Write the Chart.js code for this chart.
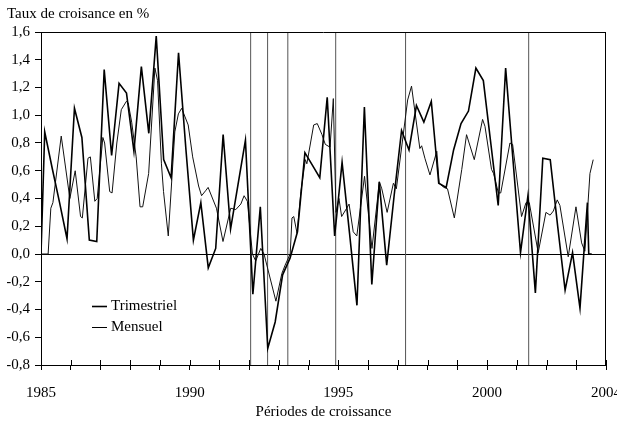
<!DOCTYPE html>
<html>
<head>
<meta charset="utf-8">
<script src="https://cdn.jsdelivr.net/npm/chart.js@4.4.0/dist/chart.umd.min.js"></script>
<style>
  html, body { margin: 0; padding: 0; background: #fff; overflow: hidden; }
  #wrap { width: 635px; height: 426px; }
</style>
</head>
<body>
<div id="wrap"><canvas id="growthChart"></canvas></div>
<script>
// Series names, as shown in the legend
const seriesNames = ['Trimestriel', 'Mensuel'];

// Trimestriel: one value per quarter (decimal year), 0 where there is no data
const trimDates = [
    1985.0,
    1985.125, 1985.375, 1985.625, 1985.875,
    1986.125, 1986.375, 1986.625, 1986.875,
    1987.125, 1987.375, 1987.625, 1987.875,
    1988.125, 1988.375, 1988.625, 1988.875,
    1989.125, 1989.375, 1989.625, 1989.875,
    1990.125, 1990.375, 1990.625, 1990.875,
    1991.125, 1991.375, 1991.625, 1991.875,
    1992.125, 1992.375, 1992.625, 1992.875,
    1993.125, 1993.375, 1993.625, 1993.875,
    1994.125, 1994.375, 1994.625, 1994.875,
    1995.125, 1995.375, 1995.625, 1995.875,
    1996.125, 1996.375, 1996.625, 1996.875,
    1997.125, 1997.375, 1997.625, 1997.875,
    1998.125, 1998.375, 1998.625, 1998.875,
    1999.125, 1999.375, 1999.625, 1999.875,
    2000.125, 2000.375, 2000.625, 2000.875,
    2001.125, 2001.375, 2001.625, 2001.875,
    2002.125, 2002.375, 2002.625, 2002.875,
    2003.125, 2003.375,
    2003.42, 2003.52
];
const trimValues = [
    0,
    0.88, 0.62, 0.37, 0.11,
    1.05, 0.84, 0.10, 0.09,
    1.33, 0.71, 1.23, 1.16,
    0.74, 1.35, 0.87, 1.57,
    0.68, 0.55, 1.45, 0.75,
    0.10, 0.37, -0.10, 0.04,
    0.86, 0.18, 0.50, 0.82,
    -0.29, 0.34, -0.68, -0.49,
    -0.15, -0.03, 0.16, 0.73,
    0.64, 0.55, 1.13, 0.13,
    0.66, 0.15, -0.37, 1.06,
    -0.22, 0.52, -0.08, 0.42,
    0.89, 0.75, 1.07, 0.95,
    1.10, 0.51, 0.48, 0.75,
    0.94, 1.03, 1.34, 1.25,
    0.80, 0.35, 1.34, 0.67,
    0.01, 0.42, -0.28, 0.69,
    0.68, 0.20, -0.26, 0.01,
    -0.39, 0.37,
    0, 0
];

// Mensuel: readings taken at the turning points of the monthly curve
const mensDates = [
    1985.00, 1985.24, 1985.33, 1985.40, 1985.68, 1985.97,
    1986.15, 1986.33, 1986.39, 1986.58, 1986.66, 1986.81, 1986.89,
    1987.08, 1987.14, 1987.31, 1987.39, 1987.55, 1987.70, 1987.87, 1987.93,
    1988.05, 1988.20, 1988.33, 1988.42, 1988.62, 1988.83, 1988.92,
    1989.05, 1989.12, 1989.28, 1989.50, 1989.62, 1989.73, 1989.95,
    1990.10, 1990.30, 1990.40, 1990.55, 1990.62, 1990.90,
    1991.12, 1991.38, 1991.55, 1991.72, 1991.83, 1991.94,
    1992.11, 1992.22, 1992.39, 1992.50, 1992.90,
    1993.10, 1993.21, 1993.38, 1993.44, 1993.50, 1993.61, 1993.74, 1993.89, 1993.94,
    1994.17, 1994.29, 1994.45, 1994.56, 1994.72, 1994.83, 1994.92,
    1995.02, 1995.11, 1995.28, 1995.36, 1995.50, 1995.62, 1995.88,
    1996.13, 1996.38, 1996.46, 1996.64, 1996.85, 1996.95,
    1997.33, 1997.46, 1997.74, 1997.80, 1997.91,
    1998.08, 1998.31, 1998.39, 1998.55, 1998.67, 1998.90,
    1999.15, 1999.31, 1999.57, 1999.85, 1999.93,
    2000.15, 2000.22, 2000.38, 2000.46, 2000.77, 2000.86,
    2001.16, 2001.31, 2001.42, 2001.72, 2001.98,
    2002.12, 2002.23, 2002.36, 2002.45, 2002.73, 2002.99,
    2003.18, 2003.29, 2003.46, 2003.57
];
const mensValues = [
    0, 0, 0.33, 0.37, 0.85, 0.40,
    0.60, 0.27, 0.26, 0.69, 0.70, 0.38, 0.40,
    0.84, 0.80, 0.45, 0.44, 0.80, 1.04, 1.10, 1.09,
    0.95, 0.70, 0.34, 0.34, 0.58, 1.34, 1.25,
    0.65, 0.45, 0.13, 0.88, 1.01, 1.05, 0.93,
    0.70, 0.49, 0.42, 0.46, 0.48, 0.33,
    0.09, 0.33, 0.32, 0.36, 0.42, 0.38,
    0.00, -0.05, 0.04, 0.00, -0.34,
    -0.14, -0.08, 0.00, 0.26, 0.27, 0.15, 0.45, 0.68, 0.65,
    0.93, 0.94, 0.86, 0.79, 0.77, 1.12, 0.30,
    0.40, 0.27, 0.33, 0.36, 0.16, 0.13, 0.56,
    0.04, 0.52, 0.47, 0.30, 0.51, 0.47,
    1.11, 1.21, 0.76, 0.78, 0.69,
    0.57, 0.74, 0.51, 0.48, 0.47, 0.26,
    0.61, 0.86, 0.68, 0.97, 0.92,
    0.61, 0.58, 0.44, 0.44, 0.80, 0.79,
    0.27, 0.37, 0.37, 0.01, 0.30,
    0.28, 0.31, 0.39, 0.35, -0.02, 0.34,
    0.08, 0.02, 0.58, 0.68
];

// Vertical markers (decimal years)
const breakDates = [1992.05, 1992.62, 1993.30, 1994.91, 1997.26, 2001.40];

// Axes
const xMin = 1985, xMax = 2004;
const xTickLabels = [1985, 1990, 1995, 2000, 2004];
const yMin = -0.8, yMax = 1.6, yStep = 0.2;

function toPoints(dates, values) {
    return dates.map((d, i) => ({ x: d, y: values[i] }));
}

function formatTick(v) {
    if (Math.abs(v) < 1e-9) return '0,0';
    return v.toFixed(1).replace('.', ',');
}

// Frame (top/right), inner half of x ticks and the legend inside the plot
const framePlugin = {
    id: 'frame',
    afterDraw(chart) {
        const { ctx, chartArea: a, scales: { x } } = chart;
        ctx.save();
        ctx.strokeStyle = '#000';
        ctx.lineWidth = 1;
        ctx.beginPath();
        ctx.moveTo(a.left, Math.round(a.top) + 0.5);
        ctx.lineTo(a.right, Math.round(a.top) + 0.5);
        ctx.moveTo(Math.round(a.right) - 0.5, a.top);
        ctx.lineTo(Math.round(a.right) - 0.5, a.bottom);
        x.ticks.forEach(t => {
            const px = Math.round(x.getPixelForValue(t.value)) + 0.5;
            ctx.moveTo(px, a.bottom);
            ctx.lineTo(px, a.bottom - 5);
        });
        ctx.stroke();

        ctx.font = '15px "Liberation Serif", "Times New Roman", serif';
        ctx.textBaseline = 'middle';
        ctx.fillStyle = '#000';
        seriesNames.forEach((name, i) => {
            const y = Math.round(a.top + 274 + i * 21) + 0.5;
            ctx.lineWidth = i === 0 ? 1.6 : 1;
            ctx.beginPath();
            ctx.moveTo(a.left + 51, y);
            ctx.lineTo(a.left + 66, y);
            ctx.stroke();
            ctx.fillText(name, a.left + 70, y);
        });
        ctx.restore();
    }
};

Chart.defaults.font.family = '"Liberation Serif", "Times New Roman", serif';
Chart.defaults.font.size = 15;
Chart.defaults.color = '#000';

const datasets = [
    {
        label: seriesNames[0],
        data: toPoints(trimDates, trimValues),
        borderColor: '#000',
        borderWidth: 1.6,
        pointRadius: 0,
        tension: 0
    },
    {
        label: seriesNames[1],
        data: toPoints(mensDates, mensValues),
        borderColor: '#111',
        borderWidth: 1,
        pointRadius: 0,
        tension: 0
    }
];
breakDates.forEach(d => {
    datasets.push({
        label: '',
        data: [{ x: d, y: yMin }, { x: d, y: yMax }],
        borderColor: '#555',
        borderWidth: 1,
        pointRadius: 0
    });
});

const ctx = document.getElementById('growthChart').getContext('2d');
const growthChart = new Chart(ctx, {
    type: 'line',
    data: { datasets: datasets },
    options: {
        responsive: true,
        maintainAspectRatio: false,
        animation: false,
        layout: { padding: { left: 7, right: 0, top: 0, bottom: 0 } },
        plugins: {
            legend: { display: false },
            tooltip: { enabled: false },
            title: {
                display: true,
                text: 'Taux de croisance en %',
                align: 'start',
                font: { size: 15, weight: 'normal' },
                padding: { top: 5, bottom: 9 }
            }
        },
        scales: {
            x: {
                type: 'linear',
                min: xMin,
                max: xMax,
                afterFit: s => { s.height = 61; },
                grid: { drawOnChartArea: false, drawTicks: true, tickLength: 5, color: '#000' },
                border: { display: true, color: '#000', width: 1 },
                ticks: {
                    stepSize: 1,
                    autoSkip: false,
                    maxRotation: 0,
                    padding: 14,
                    callback: v => xTickLabels.includes(v) ? String(v) : ''
                },
                title: {
                    display: true,
                    text: 'Périodes de croissance',
                    padding: { top: 5, bottom: 5 }
                }
            },
            y: {
                min: yMin,
                max: yMax,
                afterFit: s => { s.width = 34; },
                grid: {
                    drawTicks: true,
                    tickLength: 6,
                    tickColor: '#000',
                    color: c => (c.tick && Math.abs(c.tick.value) < 1e-9) ? '#000' : 'rgba(0,0,0,0)'
                },
                border: { display: true, color: '#000', width: 1 },
                ticks: {
                    stepSize: yStep,
                    padding: 5,
                    callback: v => formatTick(v)
                }
            }
        }
    },
    plugins: [framePlugin]
});
</script>
</body>
</html>
